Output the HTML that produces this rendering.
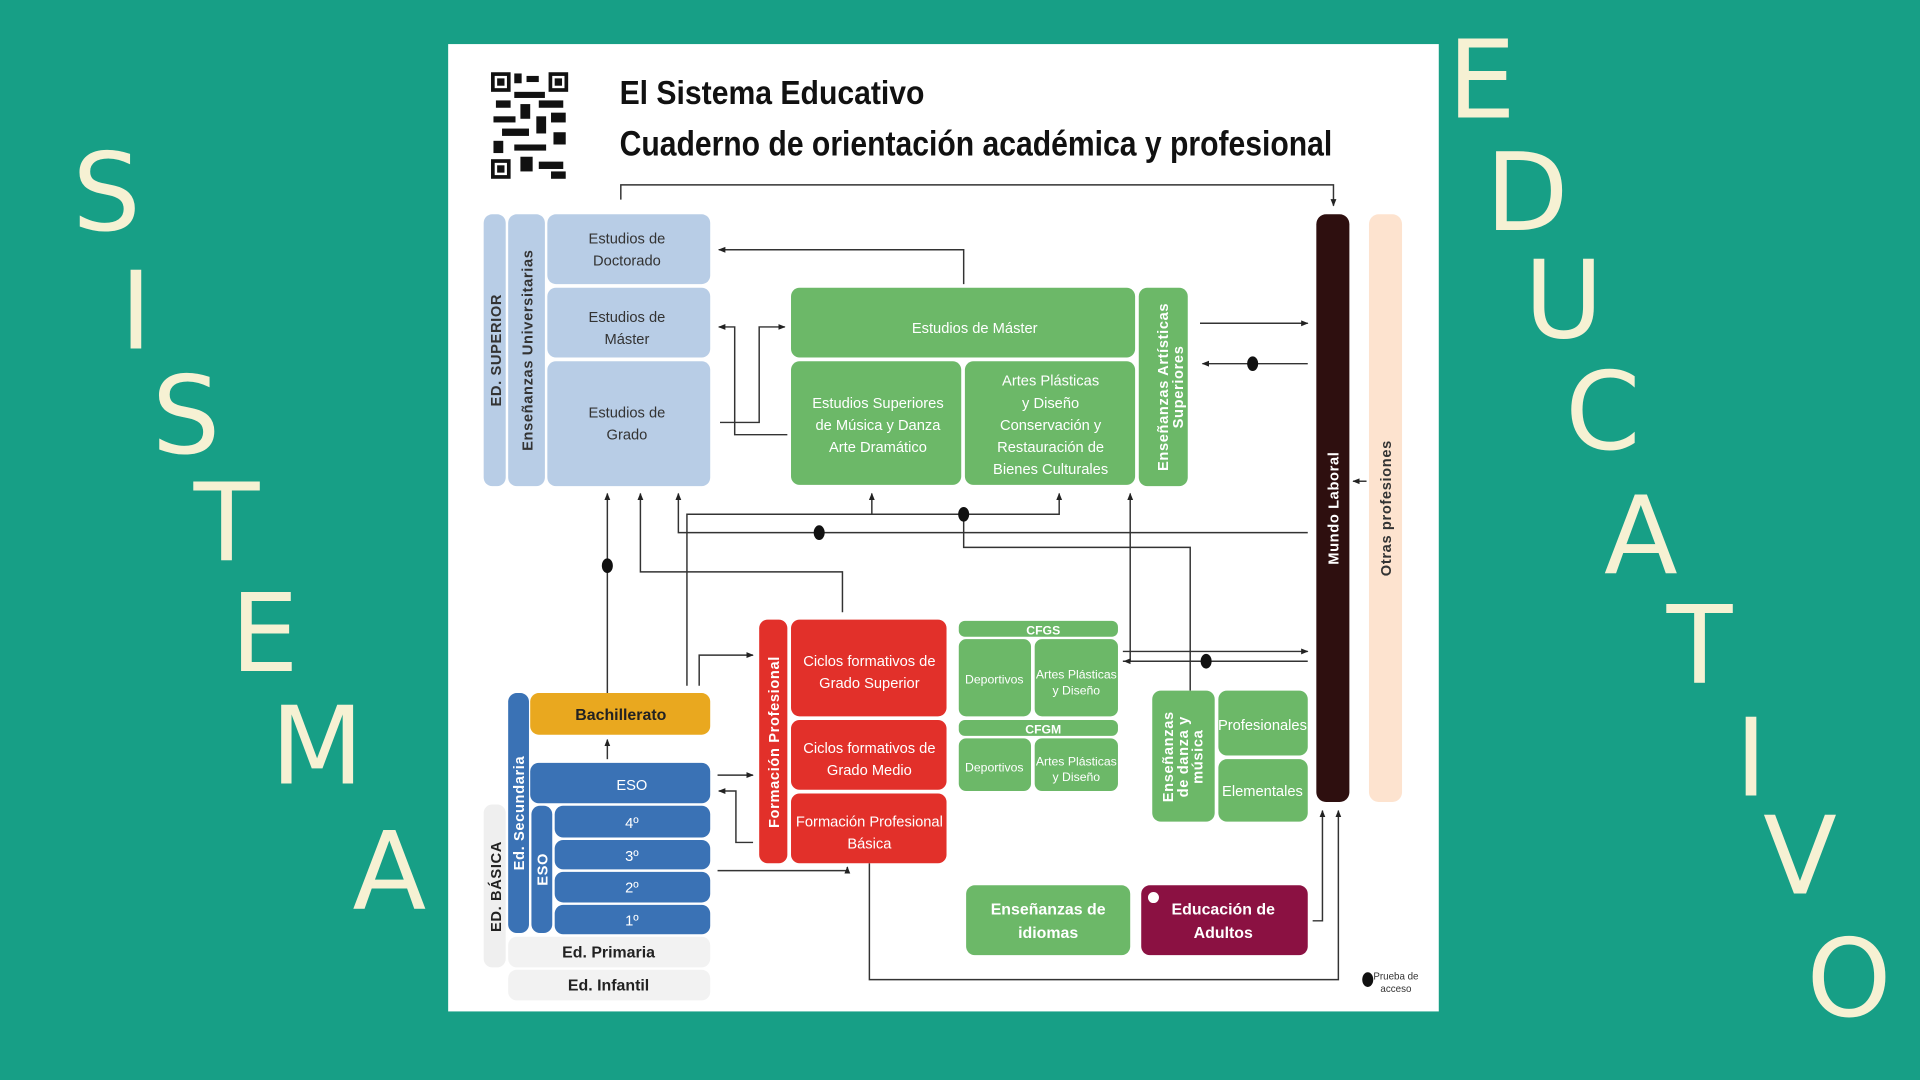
<!DOCTYPE html>
<html><head><meta charset="utf-8"><style>
html,body{margin:0;padding:0;width:1920px;height:1080px;overflow:hidden;background:#179f86}
svg{display:block}
.L{font-family:"DejaVu Sans",sans-serif;font-size:88px;fill:#f6f1d3;text-anchor:middle;dominant-baseline:central}
.t{font-family:"Liberation Sans",sans-serif;fill:#fff;text-anchor:middle;font-size:12px}
.d{fill:#333}
.v{font-family:"Liberation Sans",sans-serif;font-weight:bold;text-anchor:middle;font-size:12px;letter-spacing:0.5px}
</style></head><body>
<svg width="1920" height="1080" viewBox="0 0 1568 882" xmlns="http://www.w3.org/2000/svg">
<defs><marker id="a" viewBox="0 0 10 10" refX="9" refY="5" markerWidth="5" markerHeight="5" orient="auto"><path d="M0,1 L10,5 L0,9z" fill="#222"/></marker></defs>
<rect width="1568" height="882" fill="#179f86"/>
<g class="L">
<text x="87" y="158">S</text><text x="111" y="255">I</text><text x="152" y="340">S</text><text x="185" y="428">T</text><text x="216" y="518">E</text><text x="259" y="610">M</text><text x="318" y="712">A</text>
<text x="1210" y="66">E</text><text x="1247" y="158">D</text><text x="1277" y="246">U</text><text x="1309" y="337">C</text><text x="1340" y="438">A</text><text x="1388" y="528">T</text><text x="1430" y="620">I</text><text x="1470" y="700">V</text><text x="1510" y="800">O</text>
</g>
<rect x="366" y="36" width="809" height="790" fill="#fff"/>
<!-- QR -->
<rect x="400" y="58" width="65" height="89" fill="#fff"/>
<g fill="#111">
<rect x="401" y="59" width="16" height="16"/><rect x="448" y="59" width="16" height="16"/><rect x="401" y="130" width="16" height="16"/>
<rect x="420" y="60" width="6" height="8"/><rect x="430" y="62" width="10" height="5"/><rect x="420" y="75" width="25" height="5"/><rect x="405" y="82" width="12" height="6"/><rect x="425" y="85" width="8" height="12"/><rect x="440" y="82" width="20" height="6"/><rect x="403" y="95" width="18" height="5"/><rect x="438" y="95" width="8" height="14"/><rect x="450" y="92" width="12" height="8"/><rect x="410" y="105" width="22" height="6"/><rect x="452" y="108" width="10" height="10"/><rect x="403" y="115" width="8" height="10"/><rect x="420" y="118" width="26" height="5"/><rect x="425" y="128" width="10" height="12"/><rect x="440" y="132" width="20" height="6"/><rect x="450" y="140" width="12" height="6"/>
</g>
<g fill="#fff"><rect x="404" y="62" width="10" height="10"/><rect x="451" y="62" width="10" height="10"/><rect x="404" y="133" width="10" height="10"/></g>
<g fill="#111"><rect x="406" y="64" width="6" height="6"/><rect x="453" y="64" width="6" height="6"/><rect x="406" y="135" width="6" height="6"/></g>
<text x="506" y="85" font-family="Liberation Sans,sans-serif" font-weight="bold" font-size="27" fill="#111" textLength="249" lengthAdjust="spacingAndGlyphs">El Sistema Educativo</text>
<text x="506" y="127" font-family="Liberation Sans,sans-serif" font-weight="bold" font-size="29" fill="#111" textLength="582" lengthAdjust="spacingAndGlyphs">Cuaderno de orientación académica y profesional</text>

<!-- connectors -->
<g stroke="#333" stroke-width="1.2" fill="none">
<path d="M507,163 V151 H1089 V168" marker-end="url(#a)"/>
<path d="M787,232 V204 H587" marker-end="url(#a)"/>
<path d="M643,355 H600 V267 H587" marker-end="url(#a)"/>
<path d="M588,345 H620 V267 H641" marker-end="url(#a)"/>
<path d="M980,264 H1068" marker-end="url(#a)"/>
<path d="M1068,297 H982" marker-end="url(#a)"/>
<path d="M1116,393 H1105" marker-end="url(#a)"/>
<path d="M496,566 V403" marker-end="url(#a)"/>
<path d="M688,500 V467 H523 V403" marker-end="url(#a)"/>
<path d="M1068,435 H554 V403" marker-end="url(#a)"/>
<path d="M561,560 V420 H865 V403" marker-end="url(#a)"/>
<path d="M712,420 V403" marker-end="url(#a)"/>
<path d="M787,420 V447 H972 V564"/>
<path d="M571,560 V535 H615" marker-end="url(#a)"/>
<path d="M917,540 H923 V403" marker-end="url(#a)"/>
<path d="M917,532 H1068" marker-end="url(#a)"/>
<path d="M1068,540 H918" marker-end="url(#a)"/>
<path d="M586,633 H615" marker-end="url(#a)"/>
<path d="M615,688 H601 V646 H587" marker-end="url(#a)"/>
<path d="M586,711 H692 V708" marker-end="url(#a)"/>
<path d="M496,620 V604" marker-end="url(#a)"/>
<path d="M710,705 V800 H1093 V662" marker-end="url(#a)"/>
<path d="M1072,752 H1080 V662" marker-end="url(#a)"/>
</g>
<g fill="#111">
<ellipse cx="1023" cy="297" rx="4.5" ry="6"/><ellipse cx="496" cy="462" rx="4.5" ry="6"/><ellipse cx="669" cy="435" rx="4.5" ry="6"/><ellipse cx="787" cy="420" rx="4.5" ry="6"/><ellipse cx="985" cy="540" rx="4.5" ry="6"/><ellipse cx="1117" cy="800" rx="4.5" ry="6"/>
</g>
<text x="1140" y="800" font-family="Liberation Sans,sans-serif" font-size="8" fill="#333" text-anchor="middle">Prueba de</text>
<text x="1140" y="810" font-family="Liberation Sans,sans-serif" font-size="8" fill="#333" text-anchor="middle">acceso</text>

<!-- superior -->
<g fill="#b8cde6">
<rect x="395" y="175" width="18" height="222" rx="7"/><rect x="415" y="175" width="30" height="222" rx="7"/>
<rect x="447" y="175" width="133" height="57" rx="7"/><rect x="447" y="235" width="133" height="57" rx="7"/><rect x="447" y="295" width="133" height="102" rx="7"/>
</g>
<text class="v" transform="translate(409,286) rotate(-90)" font-size="14" fill="#333">ED. SUPERIOR</text>
<text class="v" transform="translate(435,286) rotate(-90)" font-size="12" fill="#333">Enseñanzas Universitarias</text>
<g class="t d" font-size="12.5">
<text x="512" y="199" class="d" fill="#333">Estudios de</text><text x="512" y="217" fill="#333">Doctorado</text>
<text x="512" y="263" fill="#333">Estudios de</text><text x="512" y="281" fill="#333">Máster</text>
<text x="512" y="341" fill="#333">Estudios de</text><text x="512" y="359" fill="#333">Grado</text>
</g>
<!-- artisticas -->
<g fill="#6cb868">
<rect x="646" y="235" width="281" height="57" rx="7"/><rect x="646" y="295" width="139" height="101" rx="7"/><rect x="788" y="295" width="139" height="101" rx="7"/><rect x="930" y="235" width="40" height="162" rx="7"/>
<rect x="783" y="507" width="130" height="13" rx="5"/><rect x="783" y="522" width="59" height="63" rx="6"/><rect x="845" y="522" width="68" height="63" rx="6"/>
<rect x="783" y="588" width="130" height="13" rx="5"/><rect x="783" y="603" width="59" height="43" rx="6"/><rect x="845" y="603" width="68" height="43" rx="6"/>
<rect x="941" y="564" width="51" height="107" rx="7"/><rect x="995" y="564" width="73" height="53" rx="7"/><rect x="995" y="620" width="73" height="51" rx="7"/>
<rect x="789" y="723" width="134" height="57" rx="7"/>
</g>
<rect x="932" y="723" width="136" height="57" rx="7" fill="#8b1142"/>
<circle cx="942" cy="733" r="4.5" fill="#fff"/>
<g class="t">
<text x="796" y="272">Estudios de Máster</text>
<text x="717" y="333">Estudios Superiores</text><text x="717" y="351">de Música y Danza</text><text x="717" y="369">Arte Dramático</text>
<text x="858" y="315">Artes Plásticas</text><text x="858" y="333">y Diseño</text><text x="858" y="351">Conservación y</text><text x="858" y="369">Restauración de</text><text x="858" y="387">Bienes Culturales</text>
<text x="852" y="518" font-size="10" font-weight="bold">CFGS</text><text x="852" y="599" font-size="10" font-weight="bold">CFGM</text>
<text x="812" y="558" font-size="10">Deportivos</text><text x="879" y="554" font-size="10">Artes Plásticas</text><text x="879" y="567" font-size="10">y Diseño</text>
<text x="812" y="630" font-size="10">Deportivos</text><text x="879" y="625" font-size="10">Artes Plásticas</text><text x="879" y="638" font-size="10">y Diseño</text>
<text x="1031" y="596">Profesionales</text><text x="1031" y="650">Elementales</text>
<text x="856" y="747" font-weight="bold" font-size="13">Enseñanzas de</text><text x="856" y="766" font-weight="bold" font-size="13">idiomas</text>
<text x="999" y="747" font-weight="bold" font-size="13">Educación de</text><text x="999" y="766" font-weight="bold" font-size="13">Adultos</text>
</g>
<text class="v" transform="translate(954,316) rotate(-90)" fill="#fff" font-size="11">Enseñanzas Artísticas</text>
<text class="v" transform="translate(966,316) rotate(-90)" fill="#fff" font-size="11">Superiores</text>
<text class="v" transform="translate(958,618) rotate(-90)" fill="#fff" font-size="11">Enseñanzas</text>
<text class="v" transform="translate(970,618) rotate(-90)" fill="#fff" font-size="11">de danza y</text>
<text class="v" transform="translate(982,618) rotate(-90)" fill="#fff" font-size="11">música</text>
<!-- laboral -->
<rect x="1075" y="175" width="27" height="480" rx="8" fill="#2e0f0f"/>
<rect x="1118" y="175" width="27" height="480" rx="8" fill="#fde3cf"/>
<text class="v" transform="translate(1093,415) rotate(-90)" fill="#fff" font-size="12">Mundo Laboral</text>
<text class="v" transform="translate(1136,415) rotate(-90)" fill="#333" font-size="12">Otras profesiones</text>
<!-- FP -->
<g fill="#e2302a">
<rect x="620" y="506" width="23" height="199" rx="7"/><rect x="646" y="506" width="127" height="79" rx="7"/><rect x="646" y="588" width="127" height="57" rx="7"/><rect x="646" y="648" width="127" height="57" rx="7"/>
</g>
<text class="v" transform="translate(636,606) rotate(-90)" fill="#fff" font-size="12">Formación Profesional</text>
<g class="t">
<text x="710" y="544">Ciclos formativos de</text><text x="710" y="562">Grado Superior</text>
<text x="710" y="615">Ciclos formativos de</text><text x="710" y="633">Grado Medio</text>
<text x="710" y="675">Formación Profesional</text><text x="710" y="693">Básica</text>
</g>
<!-- basica -->
<rect x="395" y="657" width="18" height="133" rx="7" fill="#efefef"/>
<rect x="415" y="765" width="165" height="25" rx="7" fill="#f2f2f2"/><rect x="415" y="792" width="165" height="25" rx="7" fill="#f2f2f2"/>
<rect x="415" y="566" width="17" height="196" rx="7" fill="#3a72b5"/><rect x="434" y="658" width="17" height="104" rx="7" fill="#3a72b5"/>
<rect x="433" y="566" width="147" height="34" rx="7" fill="#e9a81f"/>
<g fill="#3a72b5"><rect x="433" y="623" width="147" height="33" rx="7"/><rect x="453" y="658" width="127" height="26" rx="7"/><rect x="453" y="686" width="127" height="24" rx="7"/><rect x="453" y="712" width="127" height="25" rx="7"/><rect x="453" y="739" width="127" height="24" rx="7"/></g>
<text class="v" transform="translate(409,724) rotate(-90)" fill="#222" font-size="14">ED. BÁSICA</text>
<text class="v" transform="translate(428,664) rotate(-90)" fill="#fff" font-size="12">Ed. Secundaria</text>
<text class="v" transform="translate(447,710) rotate(-90)" fill="#fff" font-size="12">ESO</text>
<g class="t">
<text x="507" y="588" fill="#222" font-weight="bold" font-size="13">Bachillerato</text>
<text x="516" y="645">ESO</text><text x="516" y="676">4º</text><text x="516" y="703">3º</text><text x="516" y="729">2º</text><text x="516" y="756">1º</text>
<text x="497" y="782" fill="#222" font-weight="bold" font-size="13">Ed. Primaria</text><text x="497" y="809" fill="#222" font-weight="bold" font-size="13">Ed. Infantil</text>
</g>
</svg>
</body></html>
